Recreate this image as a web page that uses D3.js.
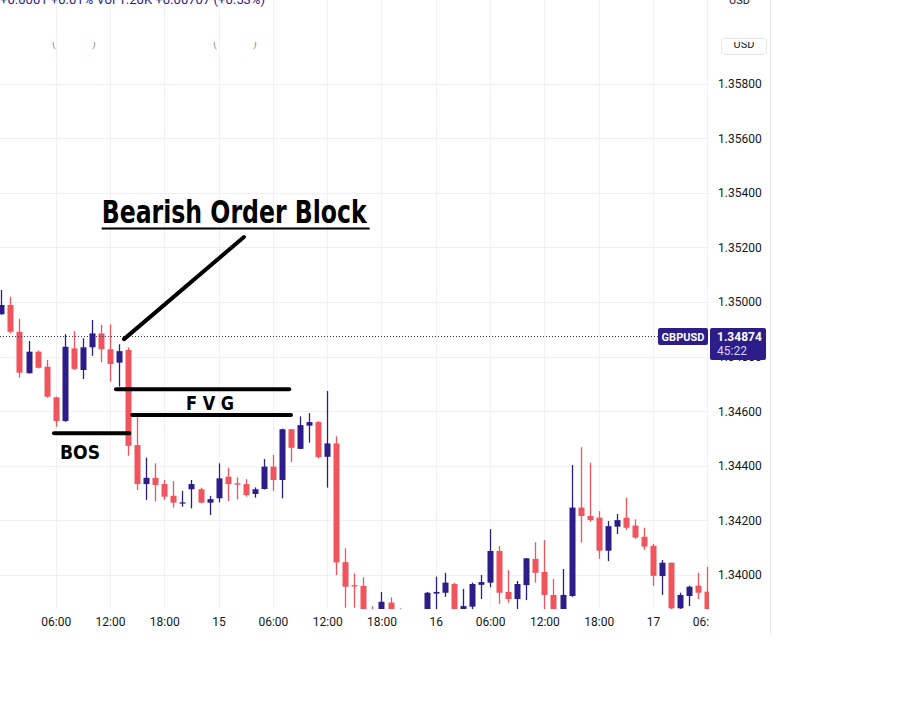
<!DOCTYPE html>
<html lang="en">
<head>
<meta charset="UTF-8">
<title>GBPUSD 1H - Bearish Order Block</title>
<script src="https://cdn.jsdelivr.net/npm/d3@7"></script>
<style>
    body { margin: 0; background: #fff; }
    svg { display: block; font-family: Roboto, "Noto Sans", sans-serif; }
    .grid line { stroke: #f0f1f4; stroke-width: 1; }
    .mark { stroke: #000; stroke-width: 4; stroke-linecap: round; fill: none; }
</style>
</head>
<body>
<svg width="914" height="708"></svg>
<script>
    // hourly candles, 14th 00:00 -> 17th 06:00
    var opens = [1.34955, 1.34989, 1.34891, 1.34739, 1.34818, 1.34763, 1.34651, 1.34564, 1.34830, 1.34751,
        1.34834, 1.34885, 1.34827, 1.34778, 1.34824, 1.34476, 1.34333, 1.34356, 1.34333, 1.34290,
        1.34263, 1.34314, 1.34314, 1.34265, 1.34281, 1.34360, 1.34336, 1.34333, 1.34297, 1.34315,
        1.34397, 1.34348, 1.34534, 1.34462, 1.34547, 1.34560, 1.34433, 1.34482, 1.34047, 1.33963,
        1.33960, 1.33860, 1.33840, 1.33899, 1.33860, 1.33840, 1.33820, 1.33860, 1.33932, 1.33935,
        1.33967, 1.33870, 1.33884, 1.33964, 1.33972, 1.34088, 1.33938, 1.33912, 1.33963, 1.34059,
        1.34011, 1.33927, 1.33860, 1.33923, 1.34247, 1.34216, 1.34210, 1.34089, 1.34177, 1.34210,
        1.34181, 1.34140, 1.34107, 1.33996, 1.34045, 1.33878, 1.33923, 1.33961, 1.33939];
    var highs = [1.35044, 1.35019, 1.34938, 1.34857, 1.34822, 1.34788, 1.34653, 1.34882, 1.34894, 1.34867,
        1.34934, 1.34916, 1.34918, 1.34845, 1.34834, 1.34590, 1.34430, 1.34409, 1.34348, 1.34344,
        1.34308, 1.34348, 1.34320, 1.34290, 1.34409, 1.34393, 1.34358, 1.34351, 1.34321, 1.34425,
        1.34440, 1.34536, 1.34535, 1.34581, 1.34593, 1.34564, 1.34674, 1.34508, 1.34098, 1.34006,
        1.33992, 1.33885, 1.33938, 1.33918, 1.33878, 1.33860, 1.33870, 1.33938, 1.33994, 1.34008,
        1.33972, 1.33949, 1.33972, 1.34000, 1.34168, 1.34106, 1.34018, 1.33978, 1.34062, 1.34120,
        1.34128, 1.33985, 1.34022, 1.34403, 1.34468, 1.34411, 1.34234, 1.34198, 1.34223, 1.34283,
        1.34204, 1.34173, 1.34114, 1.34055, 1.34045, 1.33935, 1.33961, 1.34008, 1.34030];
    var lows = [1.34954, 1.34885, 1.34723, 1.34738, 1.34757, 1.34649, 1.34543, 1.34561, 1.34751, 1.34718,
        1.34803, 1.34779, 1.34708, 1.34690, 1.34437, 1.34311, 1.34275, 1.34269, 1.34275, 1.34247,
        1.34250, 1.34244, 1.34263, 1.34220, 1.34266, 1.34271, 1.34277, 1.34287, 1.34283, 1.34313,
        1.34308, 1.34281, 1.34413, 1.34461, 1.34485, 1.34427, 1.34320, 1.34000, 1.33880, 1.33880,
        1.33820, 1.33800, 1.33810, 1.33830, 1.33810, 1.33790, 1.33800, 1.33840, 1.33860, 1.33920,
        1.33840, 1.33850, 1.33870, 1.33912, 1.33955, 1.33894, 1.33899, 1.33870, 1.33908, 1.33972,
        1.33840, 1.33830, 1.33830, 1.33920, 1.34118, 1.34195, 1.34059, 1.34051, 1.34150, 1.34165,
        1.34132, 1.34092, 1.33960, 1.33927, 1.33870, 1.33860, 1.33886, 1.33912, 1.33840];
    var closes = [1.34989, 1.34891, 1.34741, 1.34818, 1.34759, 1.34653, 1.34564, 1.34836, 1.34755, 1.34834,
        1.34885, 1.34827, 1.34773, 1.34820, 1.34473, 1.34333, 1.34356, 1.34330, 1.34287, 1.34265,
        1.34266, 1.34333, 1.34265, 1.34278, 1.34354, 1.34333, 1.34331, 1.34293, 1.34314, 1.34397,
        1.34348, 1.34534, 1.34466, 1.34549, 1.34560, 1.34432, 1.34482, 1.34046, 1.33957, 1.33958,
        1.33860, 1.33830, 1.33902, 1.33850, 1.33840, 1.33820, 1.33860, 1.33935, 1.33938, 1.33972,
        1.33860, 1.33886, 1.33967, 1.33974, 1.34088, 1.33935, 1.33912, 1.33967, 1.34061, 1.34008,
        1.33927, 1.33860, 1.33927, 1.34247, 1.34216, 1.34201, 1.34089, 1.34179, 1.34201, 1.34173,
        1.34137, 1.34104, 1.33997, 1.34045, 1.33878, 1.33927, 1.33957, 1.33935, 1.33860];

    var timeTicks = [6, 12, 18, 24, 30, 36, 42, 48, 54, 60, 66, 72, 78];
    var timeLabels = ["06:00", "12:00", "18:00", "15", "06:00", "12:00", "18:00", "16", "06:00", "12:00", "18:00", "17", "06:00"];
    var priceTicks = [1.358, 1.356, 1.354, 1.352, 1.350, 1.348, 1.346, 1.344, 1.342, 1.340];

    var symbol = "GBPUSD", lastPrice = 1.34874, countdown = "45:22";
    var legendText = "+0.0001 +0.01% Vol 1.20K +0.00707 (+0.53%)";

    // drawn annotations, in candle index / price
    var zoneLines = [
        {i0: 12.66, i1: 31.81, p: 1.34680},   // FVG top
        {i0: 14.46, i1: 32.00, p: 1.34586},   // FVG bottom
        {i0: 5.81, i1: 14.13, p: 1.34519}     // BOS
    ];
    var pointer = {i0: 13.55, p0: 1.34864, i1: 26.8, p1: 1.35238};

    var candles = opens.map(function (o, i) {
        return {i: i, o: o, h: highs[i], l: lows[i], c: closes[i]};
    });

    var svg = d3.select("svg");
    var plotRight = 709, plotBottom = 609;
    var up = "#2c1d8b", down = "#f2545e";

    var x = d3.scaleLinear().domain([0, 78]).range([1.4, 707.3]);
    var y = d3.scaleLinear().domain([1.34, 1.35]).range([575, 302]);

    var defs = svg.append("defs");
    defs.append("clipPath").attr("id", "plot")
        .append("rect").attr("x", 0).attr("y", 0).attr("width", plotRight).attr("height", plotBottom);
    defs.append("clipPath").attr("id", "timeclip")
        .append("rect").attr("x", 0).attr("y", plotBottom).attr("width", plotRight).attr("height", 40);
    defs.append("clipPath").attr("id", "topcut")
        .append("rect").attr("x", 0).attr("y", 42).attr("width", 914).attr("height", 30);

    // grid
    var grid = svg.append("g").attr("class", "grid");
    grid.selectAll(".v").data(timeTicks).enter().append("line")
        .attr("x1", function (d) { return Math.round(x(d)) + 0.5; })
        .attr("x2", function (d) { return Math.round(x(d)) + 0.5; })
        .attr("y1", 0).attr("y2", plotBottom);
    grid.selectAll(".h").data(priceTicks).enter().append("line")
        .attr("x1", 0).attr("x2", plotRight)
        .attr("y1", function (d) { return Math.round(y(d)) + 0.5; })
        .attr("y2", function (d) { return Math.round(y(d)) + 0.5; });

    svg.append("line")
        .attr("x1", 770.5).attr("x2", 770.5).attr("y1", 0).attr("y2", 635)
        .attr("stroke", "#e6e8ee");

    // candles
    var cg = svg.append("g").attr("clip-path", "url(#plot)");
    var candle = cg.selectAll(".candle").data(candles).enter().append("g");
    candle.append("line")
        .attr("x1", function (d) { return Math.round(x(d.i)) + 0.5; })
        .attr("x2", function (d) { return Math.round(x(d.i)) + 0.5; })
        .attr("y1", function (d) { return y(d.h); })
        .attr("y2", function (d) { return y(d.l); })
        .attr("stroke", function (d) { return d.c >= d.o ? up : down; })
        .attr("stroke-width", 1.3);
    candle.append("rect")
        .attr("x", function (d) { return Math.round(x(d.i)) - 2.5; })
        .attr("width", 6)
        .attr("y", function (d) { return y(Math.max(d.o, d.c)); })
        .attr("height", function (d) { return Math.max(1.2, Math.abs(y(d.o) - y(d.c))); })
        .attr("fill", function (d) { return d.c >= d.o ? up : down; });

    // last price line
    svg.append("line")
        .attr("x1", 0).attr("x2", 658)
        .attr("y1", Math.round(y(lastPrice)) + 0.5).attr("y2", Math.round(y(lastPrice)) + 0.5)
        .attr("stroke", "#3a3566").attr("stroke-dasharray", "1,2");

    // price axis
    var yAxis = svg.append("g")
        .attr("transform", "translate(712,0)")
        .call(d3.axisRight(y).tickValues(priceTicks).tickFormat(d3.format(".5f")).tickSize(0).tickPadding(6));
    yAxis.select(".domain").remove();
    yAxis.selectAll("text").attr("font-size", 12).attr("fill", "#131722")
        .attr("font-family", "Roboto, 'Noto Sans', sans-serif");

    // time axis
    var xAxis = svg.append("g")
        .attr("clip-path", "url(#timeclip)")
        .append("g")
        .attr("transform", "translate(0," + plotBottom + ")")
        .call(d3.axisBottom(x).tickValues(timeTicks).tickFormat(function (d, i) { return timeLabels[i]; })
            .tickSize(0).tickPadding(8));
    xAxis.select(".domain").remove();
    xAxis.selectAll("text").attr("font-size", 12).attr("fill", "#131722")
        .attr("font-family", "Roboto, 'Noto Sans', sans-serif");

    // price labels on the right
    var ly = Math.round(y(lastPrice));
    svg.append("rect").attr("x", 658).attr("y", ly - 8).attr("width", 50).attr("height", 17)
        .attr("rx", 2).attr("fill", up);
    svg.append("text").attr("x", 683).attr("y", ly + 4.5).attr("text-anchor", "middle")
        .attr("font-size", 11).attr("font-weight", "bold").attr("fill", "#fff").text(symbol);
    svg.append("rect").attr("x", 710).attr("y", ly - 8).attr("width", 56).attr("height", 32)
        .attr("rx", 2).attr("fill", up);
    svg.append("text").attr("x", 717).attr("y", ly + 5).attr("font-size", 12).attr("font-weight", "bold")
        .attr("fill", "#fff").text(d3.format(".5f")(lastPrice));
    svg.append("text").attr("x", 717).attr("y", ly + 19).attr("font-size", 12)
        .attr("fill", "#d6d2f5").text(countdown);

    // cropped header remains
    svg.append("text").attr("x", 0).attr("y", 4).attr("font-size", 12).attr("fill", up)
        .attr("textLength", 265).attr("lengthAdjust", "spacingAndGlyphs").text(legendText);
    svg.append("text").attr("x", 729).attr("y", 4).attr("font-size", 11).attr("fill", "#131722").text("USD");
    svg.append("rect").attr("x", 721.5).attr("y", 38.5).attr("width", 45).attr("height", 16)
        .attr("rx", 3).attr("fill", "#fff").attr("stroke", "#e3e5ea");
    var cut = svg.append("g").attr("clip-path", "url(#topcut)");
    cut.append("text").attr("x", 744).attr("y", 48).attr("text-anchor", "middle")
        .attr("font-size", 11).attr("fill", "#131722").text("USD");
    [[52, "("], [92, ")"], [213, "("], [253, ")"]].forEach(function (t) {
        cut.append("text").attr("x", t[0]).attr("y", 47).attr("font-size", 11)
            .attr("fill", "#9598a1").text(t[1]);
    });

    // annotations
    var ann = svg.append("g");
    ann.selectAll(".zone").data(zoneLines).enter().append("line")
        .attr("class", "mark")
        .attr("x1", function (d) { return x(d.i0); })
        .attr("x2", function (d) { return x(d.i1); })
        .attr("y1", function (d) { return y(d.p); })
        .attr("y2", function (d) { return y(d.p); });
    ann.append("line").attr("class", "mark")
        .attr("x1", x(pointer.i0)).attr("y1", y(pointer.p0))
        .attr("x2", x(pointer.i1)).attr("y2", y(pointer.p1));

    var narrow = "'Liberation Sans Narrow', 'Arial Narrow', 'DejaVu Sans Condensed', sans-serif";
    ann.append("text")
        .attr("x", x(11.08)).attr("y", y(1.35288))
        .attr("font-family", narrow).attr("font-weight", "bold").attr("font-size", 32)
        .attr("textLength", 265).attr("lengthAdjust", "spacingAndGlyphs")
        .attr("fill", "#000").text("Bearish Order Block");
    ann.append("line")
        .attr("x1", x(11.08)).attr("x2", x(11.08) + 268)
        .attr("y1", y(1.35288) + 5).attr("y2", y(1.35288) + 5)
        .attr("stroke", "#000").attr("stroke-width", 2);

    ann.append("text")
        .attr("x", x(20.4)).attr("y", y(1.34604))
        .attr("font-family", "'DejaVu Sans', sans-serif").attr("font-weight", "bold").attr("font-size", 19)
        .attr("textLength", 48).attr("lengthAdjust", "spacingAndGlyphs")
        .attr("fill", "#000").text("F V G");
    ann.append("text")
        .attr("x", x(6.48)).attr("y", y(1.34424))
        .attr("font-family", "'DejaVu Sans', sans-serif").attr("font-weight", "bold").attr("font-size", 20)
        .attr("textLength", 40).attr("lengthAdjust", "spacingAndGlyphs")
        .attr("fill", "#000").text("BOS");
</script>
</body>
</html>
